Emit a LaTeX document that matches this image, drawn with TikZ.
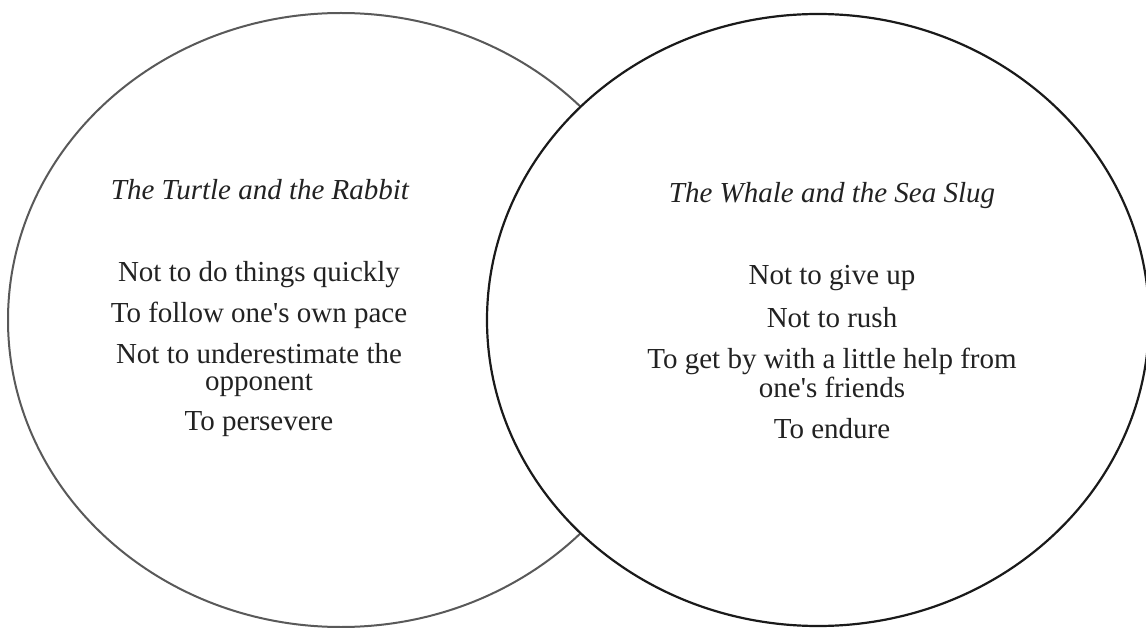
\documentclass[tikz,border=0pt]{standalone}
\usepackage{fontspec}
\setmainfont{Liberation Serif}
\definecolor{leftline}{HTML}{595959}
\definecolor{rightline}{HTML}{1A1A1A}
\definecolor{txt}{HTML}{222222}
\tikzset{
  lefts/.style={draw=leftline, line width=2pt},
  rights/.style={draw=rightline, fill=white, line width=2.2pt},
  ttl/.style={anchor=base, inner sep=0pt, text=txt, font=\fontsize{29}{29}\selectfont\itshape},
  item/.style={anchor=base, inner sep=0pt, text=txt, font=\fontsize{29}{29}\selectfont},
}
\begin{document}
\begin{tikzpicture}[x=1pt, y=-1pt]
\useasboundingbox (0,0) rectangle (1146,628);
\clip (0,0) rectangle (1146,628);
\draw[lefts] (341,320) ellipse [x radius=333, y radius=307];
\draw[rights] (818,320) ellipse [x radius=331, y radius=306];
% left set
\node[ttl]  (lt)  at (260,200) {The Turtle and the Rabbit};
\node[item] (l1)  at (259,282) {Not to do things quickly};
\node[item] (l2)  at (259,323) {To follow one\textquotesingle s own pace};
\node[item] (l3a) at (259,363) {Not to underestimate the};
\node[item] (l3b) at (259,390) {opponent};
\node[item] (l4)  at (259,430) {To persevere};
% right set
\node[ttl]  (rt)  at (832,203) {The Whale and the Sea Slug};
\node[item] (r1)  at (832,285) {Not to give up};
\node[item] (r2)  at (832,327) {Not to rush};
\node[item] (r3a) at (832,368) {To get by with a little help from};
\node[item] (r3b) at (832,397) {one\textquotesingle s friends};
\node[item] (r4)  at (832,438) {To endure};
\end{tikzpicture}
\end{document}
